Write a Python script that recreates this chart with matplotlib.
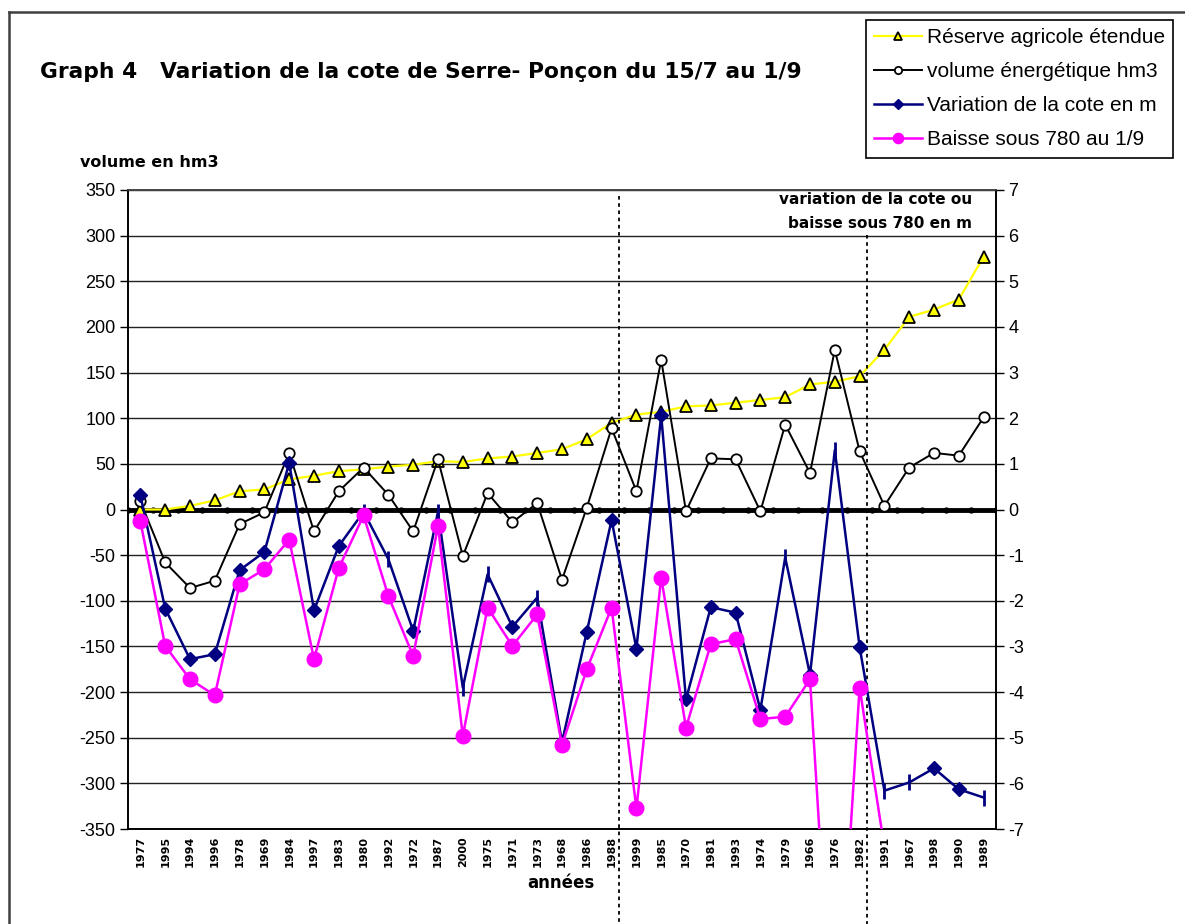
import matplotlib.pyplot as plt
import matplotlib.lines as mlines
import numpy as np

plt.rcParams['axes.unicode_minus'] = False

# categories (years, sorted by reserve)
annees = ['1977', '1995', '1994', '1996', '1978', '1969', '1984', '1997', '1983', '1980',
          '1992', '1972', '1987', '2000', '1975', '1971', '1973', '1968', '1986', '1988',
          '1999', '1985', '1970', '1981', '1993', '1974', '1979', '1966', '1976', '1982',
          '1991', '1967', '1998', '1990', '1989']

# left axis (hm3)
reserve_agricole = [0, 0, 4, 10, 20, 22, 33, 37, 42, 44,
                    47, 49, 53, 52, 56, 58, 62, 66, 77, 95,
                    104, 107, 113, 114, 117, 120, 123, 137, 140, 146,
                    175, 211, 219, 230, 277]
volume_energetique = [9, -58, -86, -78, -16, -3, 62, -24, 20, 46,
                      16, -24, 55, -51, 18, -14, 7, -77, 2, 89,
                      20, 164, -2, 56, 55, -2, 93, 40, 175, 64,
                      4, 46, 62, 59, 101]

# right axis (m)
variation_cote = [0.31, -2.17, -3.28, -3.17, -1.33, -0.93, 1.02, -2.21, -0.80, -0.05,
                  -1.09, -2.66, -0.05, -3.9, -1.42, -2.57, -1.93, -5.1, -2.68, -0.23,
                  -3.05, 2.06, -4.16, -2.14, -2.26, -4.39, -1.05, -3.62, 1.3, -3.01,
                  -6.16, -5.98, -5.67, -6.13, -6.31]
baisse_780 = [-0.26, -2.99, -3.72, -4.07, -1.64, -1.31, -0.66, -3.28, -1.28, -0.13,
              -1.90, -3.21, -0.36, -4.96, -2.15, -2.99, -2.30, -5.16, -3.50, -2.15,
              -6.55, -1.49, -4.78, -2.95, -2.84, -4.59, -4.54, -3.72, -12.5, -3.9,
              -7.4, -7.8, -7.2, -7.9, -8.2]

# points of the blue series drawn as a dash instead of a diamond
cote_tiret = ['1980', '1992', '1987', '2000', '1975', '1973', '1979', '1976', '1991', '1967', '1989']

W, H = 1185, 924
fig = plt.figure(figsize=(W / 100, H / 100), dpi=100)
ax = fig.add_axes([128 / W, 1 - 829 / H, (996 - 128) / W, (829 - 190) / H])
ax2 = ax.twinx()

x = np.arange(len(annees))
tiret_idx = [i for i, a in enumerate(annees) if a in cote_tiret]
diam_idx = [i for i in x if i not in tiret_idx]

bold = dict(family='DejaVu Sans', fontweight='bold')
reg = 'Liberation Sans'

# zero line
ax.plot(np.arange(len(annees) + 1) - 0.5, np.zeros(len(annees) + 1), color='black',
        lw=3.5, marker='o', ms=3.5, zorder=1.9)

l1, = ax.plot(x, reserve_agricole, color='#FFFF00', lw=1.6, marker='^', ms=9,
              mfc='#FFFF00', mec='black', mew=1.3, zorder=3)
l2, = ax.plot(x, volume_energetique, color='black', lw=1.4, marker='o', ms=7.5,
              mfc='white', mec='black', mew=1.3, zorder=3)

l3, = ax2.plot(x, variation_cote, color='#000080', lw=1.8, marker='D', ms=7,
               mfc='#000080', mec='#000080', markevery=diam_idx, zorder=2)
ax2.plot(x[tiret_idx], np.array(variation_cote)[tiret_idx], ls='none', marker='|',
         ms=11, mew=2, color='#000080', zorder=2)
l4, = ax2.plot(x, baisse_780, color='#FF00FF', lw=1.8, marker='o', ms=10.5,
               mfc='#FF00FF', mec='#FF00FF', zorder=3)

ax.set_xlim(-0.5, len(annees) - 0.5)
ax.set_ylim(-350, 350)
ax2.set_ylim(-7, 7)
ax.set_yticks(np.arange(-350, 351, 50))
ax2.set_yticks(np.arange(-7, 8, 1))
ax.yaxis.grid(True, color='#222222', lw=1)
ax.set_axisbelow(True)

ax.set_xticks(x)
ax.set_xticklabels(annees, rotation=90, fontsize=8, **bold)
ax.tick_params(axis='x', length=0, pad=5)
ax.tick_params(axis='y', direction='out', length=6, width=1, labelsize=13, pad=3)
ax2.tick_params(axis='y', direction='out', length=6, width=1, labelsize=13, pad=3)
for lab in ax.get_yticklabels() + ax2.get_yticklabels():
    lab.set_family(reg)

for a in (ax, ax2):
    for s in a.spines.values():
        s.set_color('black')
        s.set_linewidth(1.2)
    a.spines['top'].set_color('#444444')

# dotted separators
trans = ax.get_xaxis_transform()
for xs, ytop in ((19.3, 0.99), (29.3, 0.93)):
    ax.plot([xs, xs], [ytop, -0.16], transform=trans, color='black', ls=(0, (2, 2)),
            lw=1.3, clip_on=False, zorder=5)

# outer frame
fig.add_artist(mlines.Line2D([9 / W, 1], [1 - 12 / H, 1 - 12 / H], color='#404040', lw=1.8))
fig.add_artist(mlines.Line2D([9 / W, 9 / W], [0, 1 - 12 / H], color='#404040', lw=1.8))

fig.text(40 / W, 1 - 78 / H, 'Graph 4   Variation de la cote de Serre- Ponçon du 15/7 au 1/9',
         fontsize=15.7, va='baseline', **bold)
fig.text(80 / W, 1 - 167 / H, 'volume en hm3', fontsize=11.5, va='baseline', **bold)
fig.text(972 / W, 1 - 204 / H, 'variation de la cote ou', fontsize=11, va='baseline',
         ha='right', **bold)
fig.text(972 / W, 1 - 228 / H, 'baisse sous 780 en m', fontsize=11, va='baseline',
         ha='right', **bold)
fig.text(561 / W, 1 - 888 / H, 'années', fontsize=12, va='baseline', ha='center', **bold)

leg = fig.legend([l1, l2, l3, l4],
                 ['Réserve agricole étendue', 'volume énergétique hm3',
                  'Variation de la cote en m', 'Baisse sous 780 au 1/9'],
                 loc='upper right', bbox_to_anchor=(1173 / W, 1 - 20 / H),
                 prop={'family': reg, 'size': 15}, frameon=True, fancybox=False,
                 edgecolor='black', framealpha=1, handlelength=2.3, handletextpad=0.2,
                 labelspacing=0.72, borderpad=0.4, borderaxespad=0, markerscale=0.7)
leg.get_frame().set_linewidth(1.2)

fig.savefig('out.png', dpi=100)
